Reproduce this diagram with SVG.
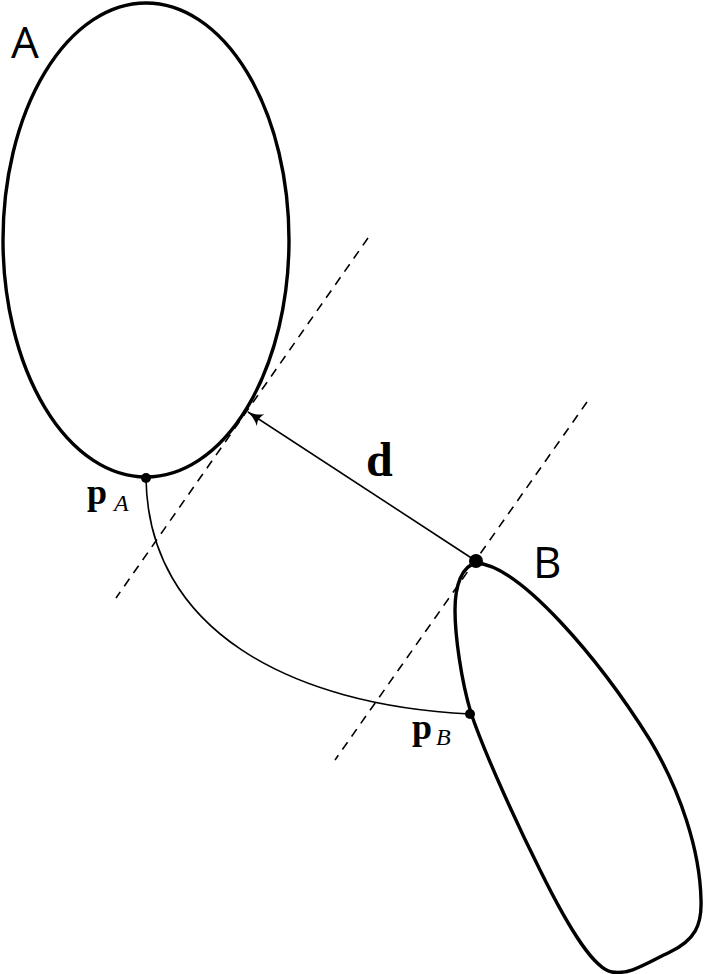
<svg xmlns="http://www.w3.org/2000/svg" width="704" height="974" viewBox="0 0 704 974">
<style>
.shape{fill:none;stroke:#000;stroke-width:3.4}
.thin{fill:none;stroke:#000;stroke-width:1.6}
.dash{fill:none;stroke:#000;stroke-width:1.6;stroke-dasharray:9 7}
.lbl{font-family:"Open Sans","DejaVu Sans",sans-serif;font-size:44px;fill:#000}
.math{font-family:"Liberation Serif",serif;fill:#000}
</style>
<defs>
<marker id="arr" viewBox="0 0 16 16" refX="15" refY="8" markerWidth="16" markerHeight="16" markerUnits="userSpaceOnUse" orient="auto">
<path d="M0,1 Q7,7 16,8 Q7,9 0,15 Q4,8 0,1 Z" fill="#000"/>
</marker>
</defs>
<g id="nodeA">
<ellipse class="shape" cx="146" cy="240" rx="143" ry="237"/>
<text class="lbl" x="11" y="58">A</text>
</g>
<g id="nodeB">
<path class="shape" d="M476,563 C520,565 600,660 650,740 C680,790 700,850 701,900 C702,925 695,940 670,952 C645,964 630,975 612,972 C595,969 572,935 540,870 C520,830 485,755 471,713 C461,680 455,635 455,610 C455,585 462,566 476,563 Z"/>
<text class="lbl" x="533" y="578">B</text>
</g>
<g id="connectors">
<line class="dash" x1="368" y1="238" x2="116" y2="598"/>
<line class="dash" x1="587" y1="402" x2="335" y2="760"/>
<line class="thin" x1="476" y1="561" x2="248" y2="412" marker-end="url(#arr)"/>
<path class="thin" d="M146,478 C148,630 290,705 470,714"/>
</g>
<g id="points">
<circle cx="146" cy="478" r="5"/>
<circle cx="470" cy="714" r="5"/>
<circle cx="476" cy="561" r="7"/>
</g>
<g id="labels">
<text class="math" x="366" y="476" font-size="48" font-weight="bold">d</text>
<text class="math" x="87" y="504" font-size="36" font-weight="bold">p</text>
<text class="math" x="114" y="511" font-size="24" font-style="italic">A</text>
<text class="math" x="412" y="739" font-size="36" font-weight="bold">p</text>
<text class="math" x="436" y="745" font-size="24" font-style="italic">B</text>
</g>
</svg>
